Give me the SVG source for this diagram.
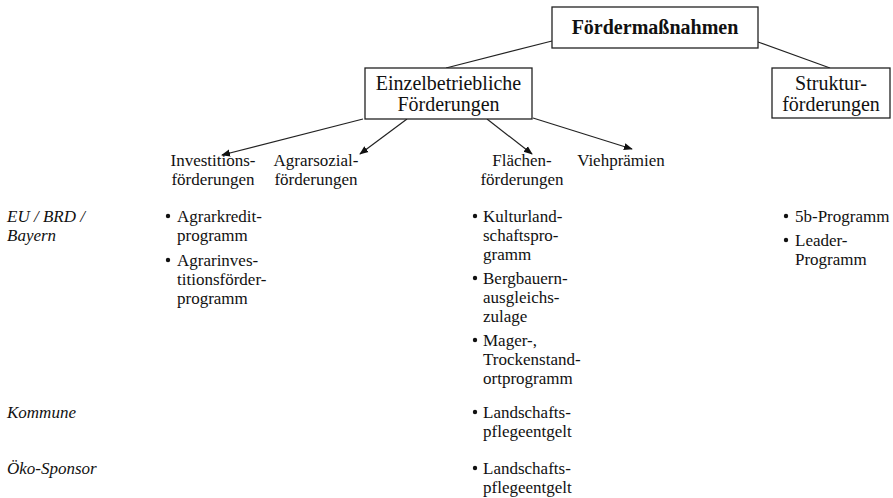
<svg xmlns="http://www.w3.org/2000/svg" width="893" height="498" viewBox="0 0 893 498">
<style>
.t{font-size:17px;fill:#111}
.c{text-anchor:middle}
.i{font-style:italic}
.bx{fill:#fff;stroke:#222;stroke-width:1.3}
.big{font-size:20px;fill:#111;text-anchor:middle}
.ln{stroke:#222;stroke-width:1.2;fill:none}
.bu{fill:#111}
</style>
<defs>
<marker id="ah" viewBox="0 0 10 10" refX="9" refY="5" markerWidth="9" markerHeight="9" markerUnits="userSpaceOnUse" orient="auto">
<path d="M0,1 L10,5 L0,9 Z" fill="#111"/>
</marker>
</defs>
<g id="connectors">
<line class="ln" x1="552" y1="41" x2="446" y2="68"/>
<line class="ln" x1="758" y1="42" x2="830" y2="68"/>
<line class="ln" x1="363" y1="119" x2="222" y2="155" marker-end="url(#ah)"/>
<line class="ln" x1="407" y1="119" x2="360" y2="154" marker-end="url(#ah)"/>
<line class="ln" x1="487" y1="119" x2="532" y2="154" marker-end="url(#ah)"/>
<line class="ln" x1="533" y1="118" x2="632" y2="149" marker-end="url(#ah)"/>
</g>
<g font-family="Liberation Serif, Times New Roman, serif">
<g id="foerdermassnahmen">
<rect class="bx" x="552" y="7" width="206" height="41"/>
<text class="big" x="655" y="34" font-weight="bold">Fördermaßnahmen</text>
</g>
<g id="einzelbetriebliche">
<rect class="bx" x="365" y="68" width="167" height="51"/>
<text class="big" x="448.5" y="90">Einzelbetriebliche</text>
<text class="big" x="448.5" y="111">Förderungen</text>
</g>
<g id="strukturfoerderungen">
<rect class="bx" x="772" y="68" width="118" height="50"/>
<text class="big" x="831" y="90">Struktur-</text>
<text class="big" x="831" y="111">förderungen</text>
</g>
<g id="investitionsfoerderungen">
<text class="t c" x="213" y="166">Investitions-</text>
<text class="t c" x="213" y="185">förderungen</text>
</g>
<g id="agrarsozialfoerderungen">
<text class="t c" x="316" y="166">Agrarsozial-</text>
<text class="t c" x="316" y="185">förderungen</text>
</g>
<g id="flaechenfoerderungen">
<text class="t c" x="522" y="166">Flächen-</text>
<text class="t c" x="522" y="185">förderungen</text>
</g>
<g id="viehpraemien">
<text class="t c" x="621" y="166">Viehprämien</text>
</g>
<g id="labels">
<text class="t i" x="7" y="222">EU / BRD /</text>
<text class="t i" x="7" y="241">Bayern</text>
<text class="t i" x="7" y="418">Kommune</text>
<text class="t i" x="7" y="474">Öko-Sponsor</text>
</g>
<g id="investitions-items">
<circle class="bu" cx="168" cy="216" r="2.2"/>
<text class="t" x="177" y="222">Agrarkredit-</text>
<text class="t" x="177" y="241">programm</text>
<circle class="bu" cx="168" cy="260" r="2.2"/>
<text class="t" x="177" y="266">Agrarinves-</text>
<text class="t" x="177" y="285">titionsförder-</text>
<text class="t" x="177" y="304">programm</text>
</g>
<g id="flaechen-items">
<circle class="bu" cx="475" cy="216" r="2.2"/>
<text class="t" x="483" y="222">Kulturland-</text>
<text class="t" x="483" y="241">schaftspro-</text>
<text class="t" x="483" y="260">gramm</text>
<circle class="bu" cx="475" cy="278" r="2.2"/>
<text class="t" x="483" y="284">Bergbauern-</text>
<text class="t" x="483" y="303">ausgleichs-</text>
<text class="t" x="483" y="322">zulage</text>
<circle class="bu" cx="475" cy="340" r="2.2"/>
<text class="t" x="483" y="346">Mager-,</text>
<text class="t" x="483" y="365">Trockenstand-</text>
<text class="t" x="483" y="384">ortprogramm</text>
<circle class="bu" cx="475" cy="412" r="2.2"/>
<text class="t" x="483" y="418">Landschafts-</text>
<text class="t" x="483" y="437">pflegeentgelt</text>
<circle class="bu" cx="475" cy="468" r="2.2"/>
<text class="t" x="483" y="474">Landschafts-</text>
<text class="t" x="483" y="493">pflegeentgelt</text>
</g>
<g id="struktur-items">
<circle class="bu" cx="786" cy="216" r="2.2"/>
<text class="t" x="795" y="222">5b-Programm</text>
<circle class="bu" cx="786" cy="240" r="2.2"/>
<text class="t" x="795" y="246">Leader-</text>
<text class="t" x="795" y="265">Programm</text>
</g>
</g>
</svg>
